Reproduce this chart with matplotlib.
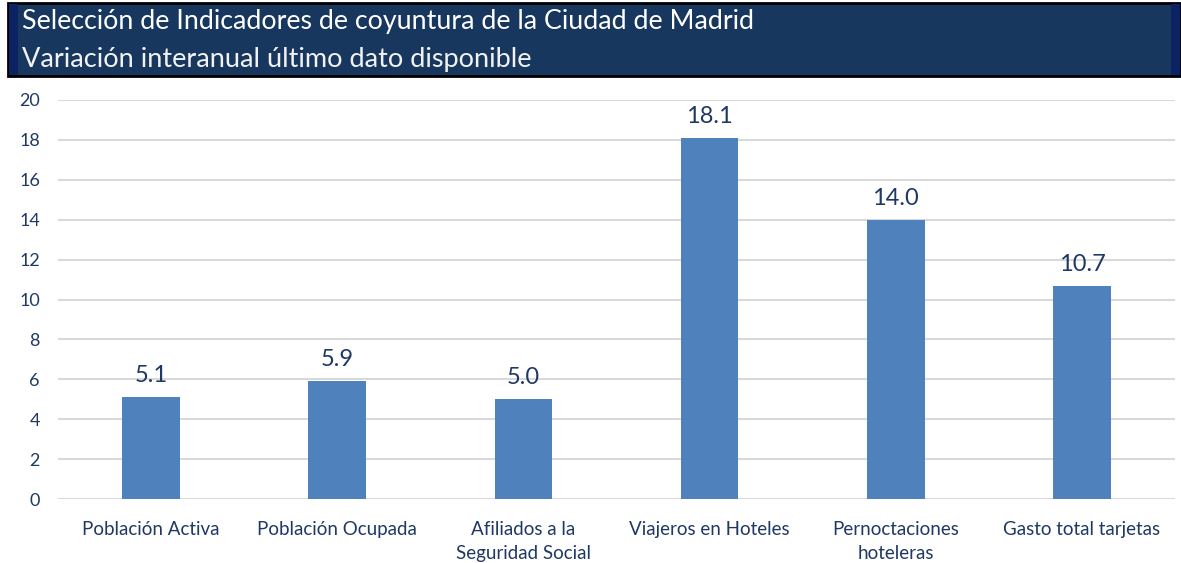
import matplotlib
matplotlib.use('Agg')
import matplotlib.pyplot as plt
from matplotlib.patches import Rectangle
import numpy as np

# data
categorias = ['Población Activa', 'Población Ocupada', 'Afiliados a la\nSeguridad Social',
              'Viajeros en Hoteles', 'Pernoctaciones\nhoteleras', 'Gasto total tarjetas']
valores = [5.1, 5.9, 5.0, 18.1, 14.0, 10.7]
yticks = [0, 2, 4, 6, 8, 10, 12, 14, 16, 18, 20]

titulo = 'Selección de Indicadores de coyuntura de la Ciudad de Madrid'
subtitulo = 'Variación interanual último dato disponible'

W, H = 1181, 563
navy_txt = '#1F3864'
bar_col = '#4F81BD'

plt.rcParams['font.family'] = ['Lato', 'DejaVu Sans']

fig = plt.figure(figsize=(W / 100, H / 100), dpi=100)

# header box
fig.patches.append(Rectangle((8 / W, 1 - 76 / H), (W - 8) / W, 73 / H, transform=fig.transFigure,
                             facecolor='#17375E', edgecolor='black', linewidth=2, zorder=0))
fig.patches.append(Rectangle((9 / W, 1 - 75 / H), 9 / W, 71 / H, transform=fig.transFigure,
                             facecolor='#0B2362', edgecolor='none', zorder=1))
fig.patches.append(Rectangle((1171 / W, 1 - 75 / H), 9 / W, 71 / H, transform=fig.transFigure,
                             facecolor='#0B2362', edgecolor='none', zorder=1))
fig.text(22 / W, 1 - 22 / H, titulo, color='white', fontsize=19.3, va='center', ha='left')
fig.text(22 / W, 1 - 59 / H, subtitulo, color='#F2F2F2', fontsize=19.5, va='center', ha='left')

ax = fig.add_axes([58 / W, 1 - 499 / H, (1175 - 58) / W, 399 / H])
x = np.arange(len(categorias))
bars = ax.bar(x, valores, width=0.31, color=bar_col, zorder=3)
for xi, v in zip(x, valores):
    ax.text(xi, v + 0.75, f'{v:.1f}', ha='center', va='baseline', fontsize=17, color=navy_txt)

ax.set_xlim(-0.5, len(categorias) - 0.5)
ax.set_ylim(0, 20)
ax.set_yticks(yticks)
ax.yaxis.grid(True, color='#D9D9D9', linewidth=1.5, zorder=0)
ax.set_axisbelow(True)
for s in ax.spines.values():
    s.set_visible(False)
ax.tick_params(axis='both', length=0, colors=navy_txt)
ax.tick_params(axis='y', pad=13, labelsize=13)
ax.tick_params(axis='x', pad=16, labelsize=13.5)
ax.set_xticks(x)
ax.set_xticklabels(categorias, linespacing=1.45)

fig.savefig('out.png', dpi=100)
